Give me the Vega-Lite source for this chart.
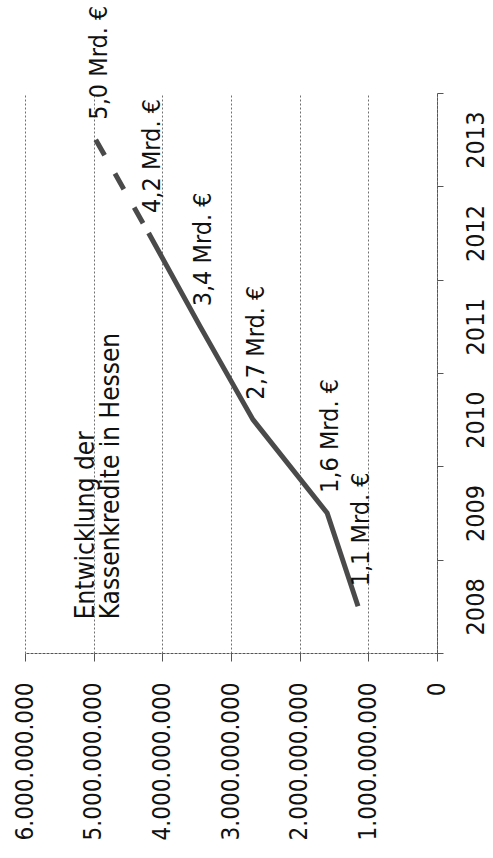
{
  "$schema": "https://vega.github.io/schema/vega-lite/v6.json",
  "width": 412,
  "height": 560,
  "autosize": {"type": "none"},
  "padding": {"left": 25, "top": 93, "right": 56, "bottom": 205},
  "background": "white",
  "config": {
    "view": {"stroke": null},
    "font": "DejaVu Sans Condensed",
    "locale": {"number": {"decimal": ",", "thousands": ".", "grouping": [3], "currency": ["", " €"]}}
  },
  "datasets": {
    "kredite": [
      {"year": 2008, "value": 1150000000, "label": "1,1 Mrd. €"},
      {"year": 2009, "value": 1600000000, "label": "1,6 Mrd. €"},
      {"year": 2010, "value": 2680000000, "label": "2,7 Mrd. €"},
      {"year": 2011, "value": 3450000000, "label": "3,4 Mrd. €"},
      {"year": 2012, "value": 4200000000, "label": "4,2 Mrd. €"},
      {"year": 2013, "value": 4970000000, "label": "5,0 Mrd. €"}
    ],
    "titel": [
      {"title": "Entwicklung der\nKassenkredite in Hessen"}
    ]
  },
  "layer": [
    {
      "data": {"name": "kredite"},
      "transform": [{"filter": "datum.year <= 2012"}],
      "mark": {"type": "line", "color": "#4a4a4a", "strokeWidth": 5},
      "encoding": {
        "x": {
          "field": "value", "type": "quantitative",
          "scale": {"domain": [0, 6000000000], "reverse": true, "nice": false},
          "axis": {
            "orient": "bottom", "title": null,
            "values": [0, 1000000000, 2000000000, 3000000000, 4000000000, 5000000000, 6000000000],
            "format": ",d",
            "labelAngle": 270, "labelAlign": "right", "labelBaseline": "middle",
            "labelFont": "DejaVu Sans Condensed", "labelFontSize": 24, "labelColor": "#111",
            "labelPadding": 21, "labelFlush": false, "labelOverlap": false,
            "tickSize": 8, "tickColor": "#555",
            "domainColor": "#555", "domainDash": [3, 1],
            "grid": true, "gridColor": "#707070", "gridDash": [2, 2], "gridWidth": 1
          }
        },
        "y": {
          "field": "year", "type": "ordinal", "sort": "descending", "bandPosition": 0.5,
          "scale": {"type": "band", "paddingInner": 0, "paddingOuter": 0, "domain": [2013, 2012, 2011, 2010, 2009, 2008]},
          "axis": {
            "orient": "right", "title": null, "tickBand": "extent",
            "labelAngle": 270, "labelAlign": "center", "labelBaseline": "top",
            "labelFont": "DejaVu Sans Condensed", "labelFontSize": 25, "labelColor": "#111",
            "labelPadding": 20, "tickSize": 6, "tickColor": "#555",
            "domainColor": "#555", "domainDash": [3, 1], "grid": false
          }
        }
      }
    },
    {
      "data": {"name": "kredite"},
      "transform": [{"filter": "datum.year >= 2012"}],
      "mark": {"type": "line", "color": "#4a4a4a", "strokeWidth": 5, "strokeDash": [18, 21]},
      "encoding": {
        "x": {"field": "value", "type": "quantitative"},
        "y": {"field": "year", "type": "ordinal", "sort": "descending", "bandPosition": 0.5}
      }
    },
    {
      "data": {"name": "kredite"},
      "mark": {"type": "text", "angle": 270, "align": "left", "baseline": "middle", "dx": 20, "dy": 3, "fontSize": 25, "color": "#111", "font": "DejaVu Sans Condensed"},
      "encoding": {
        "x": {"field": "value", "type": "quantitative"},
        "y": {"field": "year", "type": "ordinal", "sort": "descending", "bandPosition": 0.5},
        "text": {"field": "label"}
      }
    },
    {
      "data": {"name": "titel"},
      "mark": {"type": "text", "angle": 270, "align": "left", "baseline": "alphabetic", "dx": -13, "fontSize": 26, "lineHeight": 25, "lineBreak": "\n", "color": "#111", "font": "DejaVu Sans Condensed"},
      "encoding": {
        "x": {"datum": 5000000000, "type": "quantitative"},
        "y": {"datum": 2008, "type": "ordinal", "bandPosition": 0.5},
        "text": {"field": "title"}
      }
    }
  ]
}
